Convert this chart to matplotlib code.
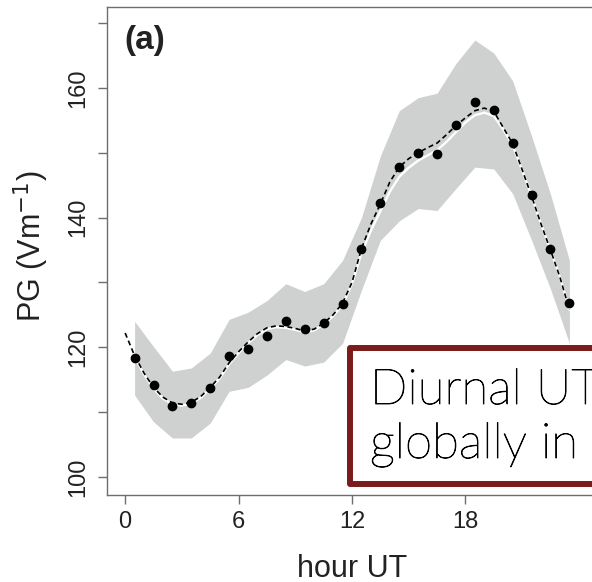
import numpy as np
import matplotlib.pyplot as plt
import matplotlib.patheffects as pe
from matplotlib.patches import Rectangle

# hourly means (plotted at half hours)
hours = [0.5, 1.5, 2.5, 3.5, 4.5, 5.5, 6.5, 7.5, 8.5, 9.5, 10.5, 11.5,
         12.5, 13.5, 14.5, 15.5, 16.5, 17.5, 18.5, 19.5, 20.5, 21.5, 22.5, 23.5]
pg_mean = [118.4, 114.2, 110.9, 111.4, 113.7, 118.6, 119.7, 121.7, 124.0, 122.8, 123.8, 126.6,
           135.2, 142.3, 147.8, 150.0, 149.8, 154.3, 157.8, 156.6, 151.5, 143.5, 135.1, 126.8]
band_upper = [124.0, 120.1, 116.3, 116.8, 119.1, 124.3, 125.4, 127.2, 129.8, 128.6, 129.8, 133.4,
              140.0, 149.5, 156.5, 158.5, 159.2, 163.8, 167.4, 165.4, 161.1, 152.6, 143.6, 133.4]
band_lower = [112.6, 108.5, 106.0, 106.0, 108.3, 113.2, 113.8, 115.7, 118.1, 117.1, 117.7, 120.6,
              128.8, 136.5, 139.5, 141.4, 141.1, 144.5, 147.8, 147.5, 143.7, 136.5, 129.0, 120.6]

# fitted curves, sampled every half hour
fit_hours = [0.0, 0.5, 1.0, 1.5, 2.0, 2.5, 3.0, 3.5, 4.0, 4.5, 5.0, 5.5,
             6.0, 6.5, 7.0, 7.5, 8.0, 8.5, 9.0, 9.5, 10.0, 10.5, 11.0, 11.5,
             12.0, 12.5, 13.0, 13.5, 14.0, 14.5, 15.0, 15.5, 16.0, 16.5, 17.0, 17.5,
             18.0, 18.5, 19.0, 19.5, 20.0, 20.5, 21.0, 21.5, 22.0, 22.5, 23.0, 23.5]
fit_dashed = [122.2, 118.7, 116.0, 113.8, 112.3, 111.4, 111.2, 111.5, 112.4, 113.8, 115.4, 117.6,
              119.3, 120.8, 122.1, 123.0, 123.3, 123.2, 122.9, 122.5, 122.8, 123.7, 125.0, 126.8,
              130.0, 135.2, 139.0, 142.1, 145.5, 147.8, 149.1, 150.0, 150.8, 151.5, 152.8, 154.2,
              155.4, 156.5, 156.9, 156.4, 153.9, 151.4, 147.4, 143.3, 139.0, 135.0, 130.8, 125.8]
fit_white = [122.0, 118.5, 115.8, 113.6, 112.1, 111.2, 111.0, 111.3, 112.2, 113.6, 115.2, 117.4,
             119.1, 120.6, 121.9, 122.8, 123.1, 123.0, 122.7, 122.3, 122.6, 123.5, 124.8, 126.5,
             129.8, 134.5, 138.0, 141.0, 144.0, 146.3, 147.7, 148.8, 149.6, 150.4, 151.7, 153.2,
             154.7, 155.8, 156.2, 155.7, 153.6, 151.2, 147.3, 143.3, 139.0, 135.0, 130.8, 125.8]

x_ticks = [0, 6, 12, 18]
y_ticks = [100, 110, 120, 130, 140, 150, 160, 170]
y_ticklabels = ['100', '', '120', '', '140', '', '160', '']

plt.rcParams['font.family'] = ['Liberation Sans', 'DejaVu Sans']

W, H = 592, 582
fig = plt.figure(figsize=(W / 100, H / 100), dpi=100)
ax = fig.add_axes([107 / W, 87 / H, 490 / W, 488 / H])

ax.fill_between(hours, band_lower, band_upper, color='#cfd0d0', lw=0, zorder=1)
ax.plot(fit_hours, fit_white, color='white', lw=1.7, zorder=2)
ax.plot(fit_hours, fit_dashed, color='black', lw=1.2, dashes=(3, 2), zorder=3)
ax.plot(hours, pg_mean, 'o', color='black', ms=6, zorder=4)

ax.set_xlim(-0.96, 24.96)
ax.set_ylim(97.2, 172.5)
ax.set_xticks(x_ticks)
ax.set_yticks(y_ticks)
ax.set_yticklabels(y_ticklabels)

for s in ax.spines.values():
    s.set_color('#6e6e6e')
    s.set_linewidth(1.0)
ax.tick_params(length=6.5, width=1.0, color='#6e6e6e', labelsize=17,
               labelcolor='#222222', pad=5)
ax.tick_params(axis='y', labelrotation=90, pad=6)
for lbl in ax.get_yticklabels():
    lbl.set_va('center')

ax.set_xlabel('hour UT', fontsize=22, color='#222222')
ax.xaxis.set_label_coords(0.5, (495 - 577) / 488)
ax.xaxis.label.set_va('baseline')
ax.set_ylabel('PG (Vm$^{-1}$)', fontsize=22, color='#222222')
ax.yaxis.set_label_coords((31 - 107) / 490, (495 - 246) / 488)
ax.yaxis.label.set_va('center')

fig.text(124 / W, (H - 49) / H, '(a)', fontsize=24, fontweight='bold',
         color='#222222', va='baseline', ha='left')

# overlay box (cropped on the right)
box = Rectangle((350 / W, (H - 484) / H), 350 / W, 136 / H,
                transform=fig.transFigure, facecolor='white', edgecolor='#7a1c1c',
                lw=4.3, joinstyle='round', zorder=5)
fig.add_artist(box)
thicken = [pe.withStroke(linewidth=0.6, foreground='black')]
fig.text(370 / W, (H - 404) / H, 'Diurnal UT', fontsize=35.5, family='Lato',
         fontweight='light', va='baseline', ha='left', color='black',
         path_effects=thicken, zorder=6)
fig.text(370 / W, (H - 458) / H, 'globally in', fontsize=35.5, family='Lato',
         fontweight='light', va='baseline', ha='left', color='black',
         path_effects=thicken, zorder=6)

plt.savefig('out.png', dpi=100)
